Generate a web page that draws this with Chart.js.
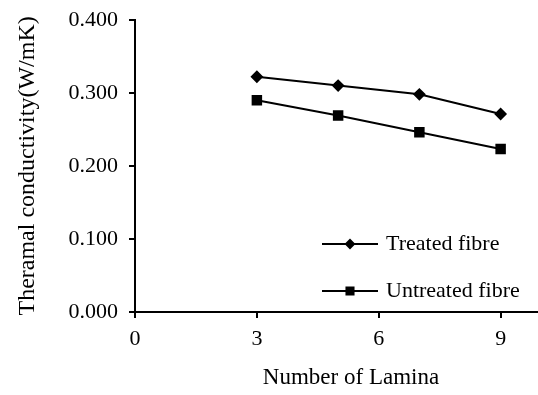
<!DOCTYPE html>
<html>
<head>
<meta charset="utf-8">
<script src="https://cdn.jsdelivr.net/npm/chart.js@4/dist/chart.umd.min.js"></script>
<style>
  body { margin: 0; background: #fff; }
  #wrap { width: 538px; height: 395px; }
</style>
</head>
<body>
<div id="wrap"><canvas id="chart" width="538" height="395"></canvas></div>
<script>
const lamina = [3, 5, 7, 9];
const treated = [0.322, 0.310, 0.298, 0.271];
const untreated = [0.290, 0.269, 0.246, 0.223];
const seriesNames = ["Treated fibre", "Untreated fibre"];
const xTicks = [0, 3, 6, 9];
const xTitle = "Number of Lamina";

const FONT = "'Liberation Serif', 'Times New Roman', serif";

function pts(ys) {
  return lamina.map((x, i) => ({ x: x, y: ys[i] }));
}

// legend drawn inside the plot, lower right; x title sits a bit right of centre
const extras = {
  id: "extras",
  afterDraw(chart) {
    const ctx = chart.ctx;
    const rows = [244, 291];
    const marks = [4, 5];
    chart.data.datasets.forEach((ds, i) => {
      const y = rows[i];
      ctx.save();
      ctx.strokeStyle = "#000";
      ctx.lineWidth = 2;
      ctx.beginPath();
      ctx.moveTo(322, y);
      ctx.lineTo(378, y);
      ctx.stroke();
      ctx.fillStyle = "#000";
      Chart.helpers.drawPoint(ctx, {
        pointStyle: ds.pointStyle,
        radius: marks[i],
        borderWidth: 1
      }, 350, y);
      ctx.font = "22px " + FONT;
      ctx.textBaseline = "middle";
      ctx.fillText(ds.label, 386, y);
      ctx.restore();
    });
    ctx.save();
    ctx.fillStyle = "#000";
    ctx.font = "23px " + FONT;
    ctx.textAlign = "center";
    ctx.textBaseline = "middle";
    ctx.fillText(xTitle, 351, 378);
    ctx.restore();
  }
};

new Chart(document.getElementById("chart"), {
  type: "line",
  data: {
    datasets: [
      {
        label: seriesNames[0],
        data: pts(treated),
        borderColor: "#000",
        backgroundColor: "#000",
        borderWidth: 2,
        pointStyle: "rectRot",
        pointRadius: 5,
        pointBorderColor: "#000",
        pointBackgroundColor: "#000"
      },
      {
        label: seriesNames[1],
        data: pts(untreated),
        borderColor: "#000",
        backgroundColor: "#000",
        borderWidth: 2,
        pointStyle: "rect",
        pointRadius: 6,
        pointBorderColor: "#000",
        pointBackgroundColor: "#000"
      }
    ]
  },
  options: {
    responsive: false,
    animation: false,
    layout: { autoPadding: false, padding: { top: 19, right: 0, left: 0, bottom: 0 } },
    plugins: {
      legend: { display: false },
      tooltip: { enabled: false }
    },
    scales: {
      x: {
        type: "linear",
        min: 0,
        max: 9.92,
        afterBuildTicks: axis => {
          axis.ticks = xTicks.map(v => ({ value: v }));
        },
        afterFit: axis => { axis.height = 83; },
        grid: { drawOnChartArea: false, drawTicks: true, tickLength: 6, color: "#000", lineWidth: 2 },
        border: { color: "#000", width: 2 },
        ticks: { color: "#000", font: { family: FONT, size: 22 }, padding: 8 }
      },
      y: {
        min: 0,
        max: 0.4,
        afterFit: axis => { axis.width = 135; },
        grid: { drawOnChartArea: false, drawTicks: true, tickLength: 6, color: "#000", lineWidth: 2 },
        border: { color: "#000", width: 2 },
        ticks: {
          stepSize: 0.1,
          color: "#000",
          font: { family: FONT, size: 22, lineHeight: 0.8 },
          padding: 11,
          callback: v => v.toFixed(3)
        },
        title: {
          display: true,
          text: "Theramal conductivity(W/mK)",
          color: "#000",
          font: { family: FONT, size: 24 },
          padding: { top: 13, bottom: 4 }
        }
      }
    }
  },
  plugins: [extras]
});
</script>
</body>
</html>
